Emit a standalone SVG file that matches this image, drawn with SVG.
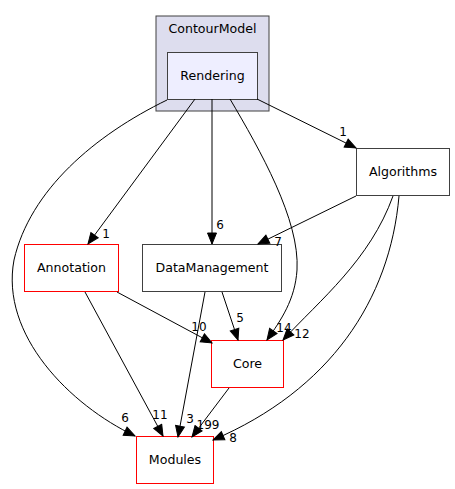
<svg xmlns="http://www.w3.org/2000/svg" width="455" height="489" viewBox="0 0 455 489">
<defs>
<style>
text{font-family:"DejaVu Sans","Liberation Sans",sans-serif;fill:#000}
.nl{font-size:12.6px;text-anchor:middle}
.el{font-size:12px;text-anchor:middle}
.edge{fill:none;stroke:#000;stroke-width:1}
.gray{fill:#fff;stroke:#404040;stroke-width:1}
.red{fill:#fff;stroke:#ff0000;stroke-width:1}
</style>
<marker id="ah" markerUnits="userSpaceOnUse" viewBox="-1 -1 13 11" refX="11" refY="4.5" markerWidth="13" markerHeight="11" orient="auto">
<path d="M0,0 L11,4.5 L0,9 z" fill="#000" stroke="#000" stroke-width="1"/>
</marker>
</defs>
<rect width="455" height="489" fill="#fff"/>
<g id="cluster_ContourModel">
<rect x="156" y="16" width="113" height="95" fill="#ddddee" stroke="#404040"/>
<text class="nl" x="212.5" y="33">ContourModel</text>
</g>
<g id="node_Rendering">
<rect x="167.5" y="52.5" width="90" height="47" fill="#eeeeff" stroke="#404040"/>
<text class="nl" x="212.5" y="80">Rendering</text>
</g>
<g id="node_Algorithms">
<rect class="gray" x="356.5" y="148.5" width="93" height="47"/>
<text class="nl" x="403" y="176">Algorithms</text>
</g>
<g id="node_DataManagement">
<rect class="gray" x="142.5" y="244.5" width="139" height="47"/>
<text class="nl" x="212" y="272">DataManagement</text>
</g>
<g id="node_Annotation">
<rect class="red" x="24.5" y="244.5" width="94" height="47"/>
<text class="nl" x="71.5" y="272">Annotation</text>
</g>
<g id="node_Core">
<rect class="red" x="211.5" y="340.5" width="72" height="47"/>
<text class="nl" x="247.5" y="368">Core</text>
</g>
<g id="node_Modules">
<rect class="red" x="136.5" y="436.5" width="77" height="47"/>
<text class="nl" x="175" y="464">Modules</text>
</g>
<g id="edges">
<path class="edge" marker-end="url(#ah)" d="M167,100 C95,135 30,190 14,260 C0,335 70,405 135,436"/>
<text class="el" x="125" y="422">6</text>
<path class="edge" marker-end="url(#ah)" d="M195,99 L88,244"/>
<text class="el" x="106" y="238">1</text>
<path class="edge" marker-end="url(#ah)" d="M212,99 L212,244"/>
<text class="el" x="220" y="229">6</text>
<path class="edge" marker-end="url(#ah)" d="M230,99 C260,150 300,220 297,270 C295,300 281,320 267,340"/>
<text class="el" x="284" y="332">14</text>
<path class="edge" marker-end="url(#ah)" d="M257,99 L356,148"/>
<text class="el" x="343" y="136">1</text>
<path class="edge" marker-end="url(#ah)" d="M356,196 L258,244"/>
<text class="el" x="278" y="246">7</text>
<path class="edge" marker-end="url(#ah)" d="M393,196 C370,260 320,300 283,340"/>
<text class="el" x="302" y="338">12</text>
<path class="edge" marker-end="url(#ah)" d="M399,196 C390,300 330,390 213,440"/>
<text class="el" x="233" y="442">8</text>
<path class="edge" marker-end="url(#ah)" d="M117,292 L212,343"/>
<text class="el" x="199" y="331">10</text>
<path class="edge" marker-end="url(#ah)" d="M85,292 L163,436"/>
<text class="el" x="160" y="419">11</text>
<path class="edge" marker-end="url(#ah)" d="M222,292 L238,340"/>
<text class="el" x="240" y="322">5</text>
<path class="edge" marker-end="url(#ah)" d="M205,292 L178,437"/>
<text class="el" x="190" y="423">3</text>
<path class="edge" marker-end="url(#ah)" d="M229,388 L192,437"/>
<text class="el" x="208" y="429">199</text>
</g>
</svg>
